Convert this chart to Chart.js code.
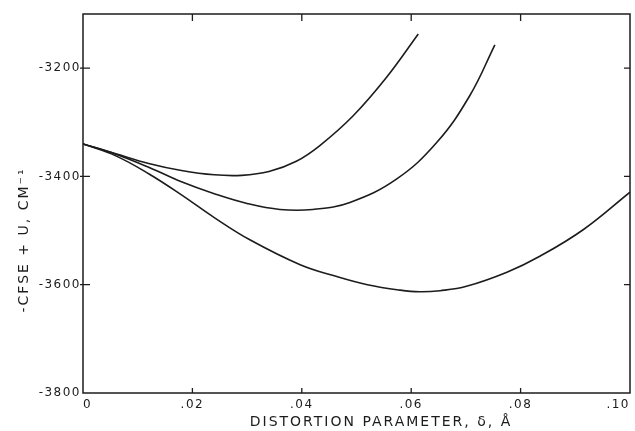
<!DOCTYPE html>
<html>
<head>
<meta charset="utf-8">
<script src="https://cdn.jsdelivr.net/npm/chart.js@4"></script>
<style>
  html, body { margin: 0; padding: 0; background: #fff; }
  #wrap { width: 635px; height: 431px; position: relative; }
</style>
</head>
<body>
<div id="wrap"><canvas id="plot"></canvas></div>
<script>
// values (delta in angstrom, energy in cm-1)
const curveAx = [0, 0.006, 0.012, 0.018, 0.024, 0.029, 0.034, 0.039, 0.0433, 0.0494, 0.0555, 0.0613];
const curveAy = [-3340, -3358, -3376, -3389, -3397, -3398, -3391, -3372, -3343, -3288, -3217, -3137];

const curveBx = [0, 0.006, 0.012, 0.018, 0.024, 0.03, 0.036, 0.042, 0.0488, 0.0573, 0.0647, 0.0707, 0.0753];
const curveBy = [-3340, -3359, -3383, -3410, -3432, -3450, -3461, -3461, -3448, -3405, -3337, -3251, -3157];

const curveCx = [0, 0.006, 0.012, 0.018, 0.024, 0.0305, 0.0397, 0.0464, 0.052, 0.058, 0.0615, 0.0653, 0.0701, 0.0775, 0.0836, 0.0915, 0.1];
const curveCy = [-3340, -3362, -3395, -3434, -3476, -3517, -3563, -3585, -3600, -3610, -3613, -3611, -3603, -3577, -3547, -3498, -3429];

const xTicks = [0.02, 0.04, 0.06, 0.08];
const yTicks = [-3200, -3400, -3600];

const xTitle = 'DISTORTION PARAMETER, \u03b4, \u00c5';
const yTitle = '-CFSE + U, CM\u207b\u00b9';

const ink = '#1c1c1c';

function pts(xs, ys){
    return xs.map((x, i) => ({ x: x, y: ys[i] }));
}

function line(xs, ys){
    return {
        data: pts(xs, ys),
        borderColor: ink,
        borderWidth: 1.6,
        pointRadius: 0,
        tension: 0.4,
        fill: false
    };
}

// frame, inward ticks and the two axis titles
const framePlugin = {
    id: 'frame',
    beforeDraw(chart){
        chart.ctx.letterSpacing = '1.5px';
    },
    afterDraw(chart){
        const ctx = chart.ctx;
        const a = chart.chartArea;
        const sx = chart.scales.x, sy = chart.scales.y;
        ctx.save();
        ctx.strokeStyle = ink;
        ctx.lineWidth = 1.5;
        ctx.strokeRect(a.left, a.top, a.right - a.left, a.bottom - a.top);
        ctx.lineWidth = 1.3;
        ctx.beginPath();
        xTicks.forEach(v => {
            const px = sx.getPixelForValue(v);
            ctx.moveTo(px, a.bottom); ctx.lineTo(px, a.bottom - 5);
            ctx.moveTo(px, a.top); ctx.lineTo(px, a.top + 7);
        });
        yTicks.forEach(v => {
            const py = sy.getPixelForValue(v);
            ctx.moveTo(a.left - 3, py); ctx.lineTo(a.left + 7, py);
            ctx.moveTo(a.right - 6, py); ctx.lineTo(a.right, py);
        });
        ctx.stroke();

        ctx.fillStyle = ink;
        ctx.font = '14px "DejaVu Sans"';
        ctx.letterSpacing = '2px';
        ctx.textAlign = 'center';
        ctx.textBaseline = 'middle';
        ctx.fillText(xTitle, 381, 422);

        ctx.translate(24, 240);
        ctx.rotate(-Math.PI / 2);
        ctx.fillText(yTitle, 0, 0);
        ctx.restore();
    }
};

new Chart(document.getElementById('plot'), {
    type: 'line',
    data: {
        datasets: [line(curveAx, curveAy), line(curveBx, curveBy), line(curveCx, curveCy)]
    },
    options: {
        responsive: true,
        maintainAspectRatio: false,
        animation: false,
        layout: { padding: { top: 14, right: 5, left: 0, bottom: 0 } },
        plugins: { legend: { display: false }, tooltip: { enabled: false } },
        scales: {
            x: {
                type: 'linear',
                min: 0,
                max: 0.1,
                grid: { display: false, drawTicks: false },
                border: { display: false },
                afterFit: s => { s.height = 38; },
                ticks: {
                    stepSize: 0.02,
                    padding: 5,
                    align: 'inner',
                    color: ink,
                    font: { family: 'DejaVu Sans', size: 12 },
                    callback: v => v === 0 ? '0' : v.toFixed(2).replace(/^0/, '')
                }
            },
            y: {
                type: 'linear',
                min: -3800,
                max: -3100,
                grid: { display: false, drawTicks: false },
                border: { display: false },
                afterFit: s => { s.width = 83; },
                ticks: {
                    stepSize: 200,
                    padding: 2,
                    color: ink,
                    font: { family: 'DejaVu Sans', size: 12 },
                    callback: v => (v % 200 === 0) ? String(v) : null
                }
            }
        }
    },
    plugins: [framePlugin]
});
</script>
</body>
</html>
